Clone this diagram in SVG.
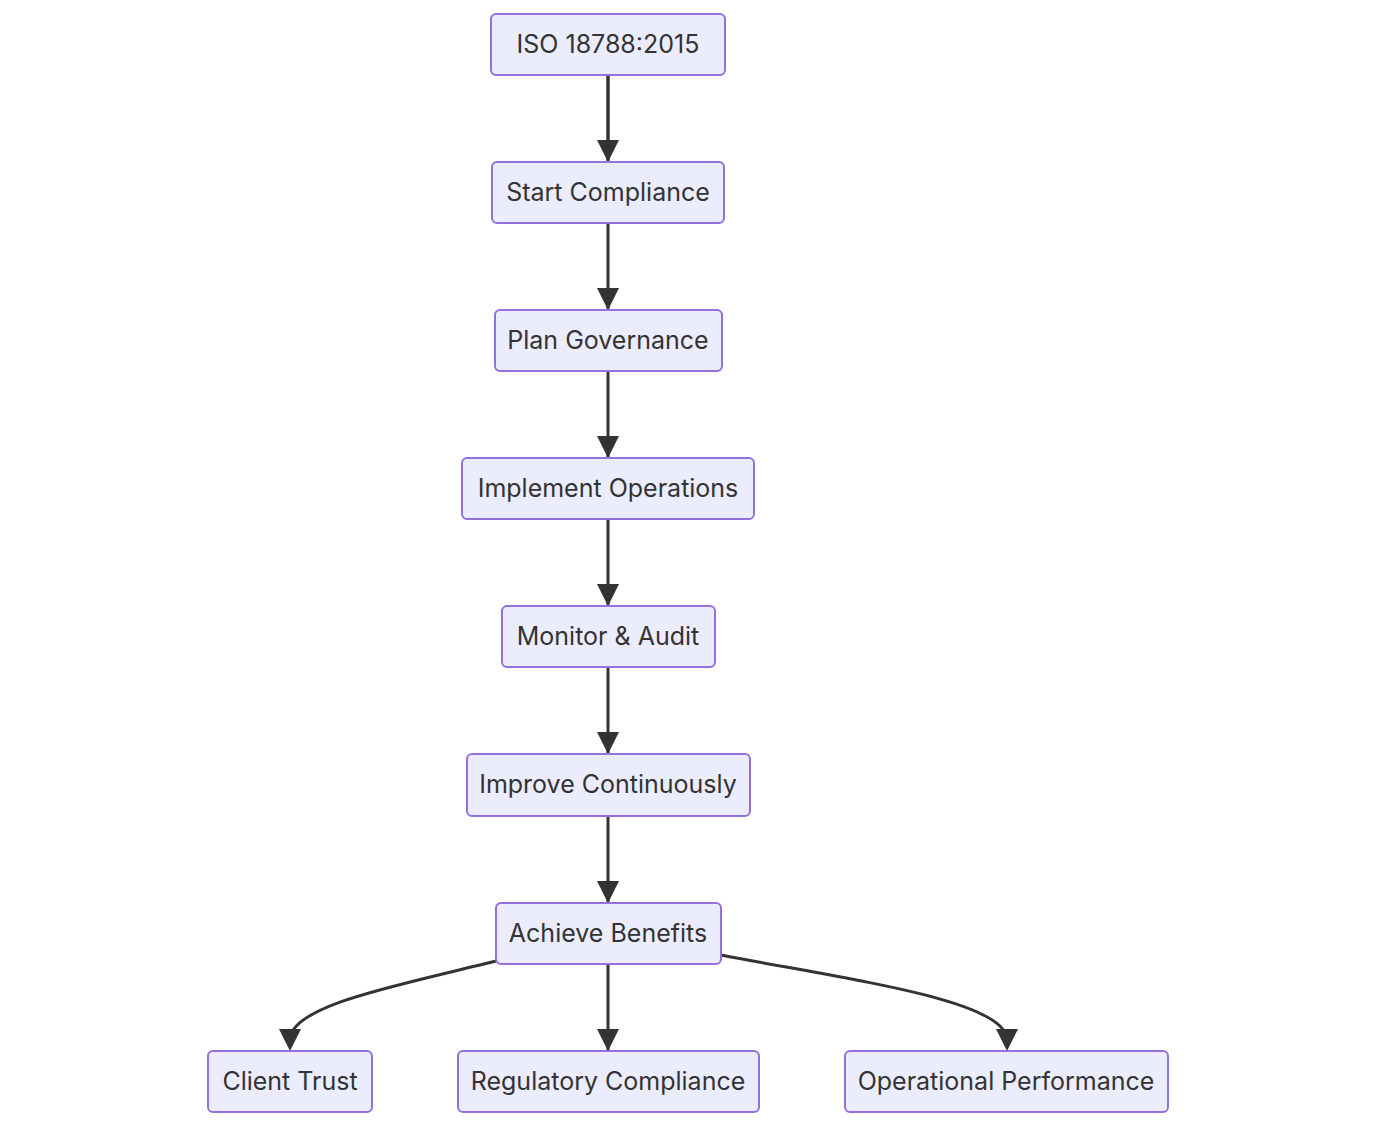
<svg xmlns="http://www.w3.org/2000/svg" width="1379" height="1127" viewBox="0 0 1379 1127">
<style>
.n rect{fill:#ECECFF;stroke:#9370DB;stroke-width:2}
.n text{font-family:Inter,"Liberation Sans",sans-serif;font-size:25px;fill:#333;text-anchor:middle;dominant-baseline:central}
.e path{fill:none;stroke:#333;stroke-width:3}
</style>
<defs><marker id="a" viewBox="0 0 10 10" refX="9" refY="5" markerWidth="7" markerHeight="7" markerUnits="userSpaceOnUse" orient="auto"><path d="M0,0L10,5L0,10z" fill="#333"/></marker></defs>
<rect width="1379" height="1127" fill="#fff"/>
<g class="e">
<path d="M608,75V160" marker-end="url(#a)" style="marker-end:none"/>
<path d="M608,75V161"/><path d="M608,223V309"/><path d="M608,371V457"/><path d="M608,519V605"/><path d="M608,667V753"/><path d="M608,816V902"/><path d="M608,964V1050"/>
<path d="M496,961C400,985 290,1005 290,1040"/>
<path d="M721,955C850,980 1007,1000 1007,1040"/>
</g>
<g fill="#333">
<path d="M597,140h22l-11,22z"/><path d="M597,288h22l-11,22z"/><path d="M597,436h22l-11,22z"/><path d="M597,584h22l-11,22z"/><path d="M597,732h22l-11,22z"/><path d="M597,881h22l-11,22z"/><path d="M597,1029h22l-11,22z"/>
<path d="M279,1029h22l-11,22z"/><path d="M996,1029h22l-11,22z"/>
</g>
<g id="n1" class="n"><rect x="491" y="14" width="234" height="61" rx="5"/><text x="608" y="44">ISO 18788:2015</text></g>
<g id="n2" class="n"><rect x="492" y="162" width="232" height="61" rx="5"/><text x="608" y="192">Start Compliance</text></g>
<g id="n3" class="n"><rect x="495" y="310" width="227" height="61" rx="5"/><text x="608" y="340">Plan Governance</text></g>
<g id="n4" class="n"><rect x="462" y="458" width="292" height="61" rx="5"/><text x="608" y="488">Implement Operations</text></g>
<g id="n5" class="n"><rect x="502" y="606" width="213" height="61" rx="5"/><text x="608" y="636">Monitor &amp; Audit</text></g>
<g id="n6" class="n"><rect x="467" y="754" width="283" height="62" rx="5"/><text x="608" y="784">Improve Continuously</text></g>
<g id="n7" class="n"><rect x="496" y="903" width="225" height="61" rx="5"/><text x="608" y="933">Achieve Benefits</text></g>
<g id="n8" class="n"><rect x="208" y="1051" width="164" height="61" rx="5"/><text x="290" y="1081">Client Trust</text></g>
<g id="n9" class="n"><rect x="458" y="1051" width="301" height="61" rx="5"/><text x="608" y="1081">Regulatory Compliance</text></g>
<g id="n10" class="n"><rect x="845" y="1051" width="323" height="61" rx="5"/><text x="1006" y="1081">Operational Performance</text></g>
</svg>
